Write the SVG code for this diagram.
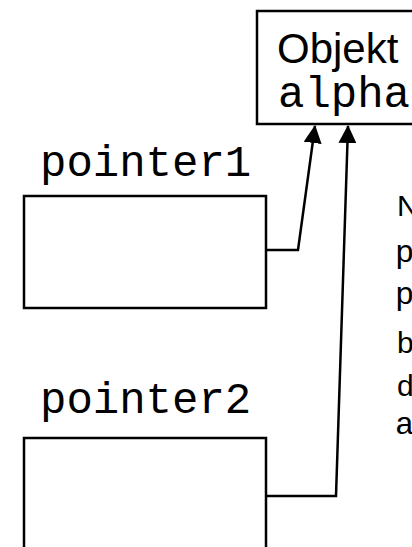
<svg xmlns="http://www.w3.org/2000/svg" width="412" height="547" viewBox="0 0 412 547">
  <style>
    .box { fill: #ffffff; stroke: #000000; stroke-width: 2.5; }
    .sans { font-family: "Liberation Sans", Arial, sans-serif; fill: #000000; }
    .mono { font-family: "Liberation Mono", "Courier New", monospace; fill: #000000; }
    .wire { fill: none; stroke: #000000; stroke-width: 2.5; }
  </style>
  <defs>
    <marker id="arrow" markerUnits="userSpaceOnUse" markerWidth="18" markerHeight="18" viewBox="0 0 18 18" refX="17" refY="9" orient="auto">
      <path d="M0,0 L18,9 L0,18 Z" fill="#000000"/>
    </marker>
  </defs>
  <rect width="412" height="547" fill="#ffffff"/>

  <!-- target object, its right side runs past the canvas edge -->
  <g id="objekt-alpha">
    <rect class="box" x="257" y="11" width="170" height="113"/>
    <text class="sans" x="277" y="63" font-size="42">Objekt</text>
    <text class="mono" x="278" y="107" font-size="44">alpha</text>
  </g>

  <g id="pointer1">
    <text class="mono" x="40" y="176" font-size="44">pointer1</text>
    <rect class="box" x="24" y="196" width="242" height="112"/>
  </g>

  <g id="pointer2">
    <text class="mono" x="40" y="413" font-size="44">pointer2</text>
    <rect class="box" x="24" y="438" width="242" height="130"/>
  </g>

  <!-- side note, clipped by the right edge -->
  <g id="note">
    <text class="sans" x="397" y="216" font-size="30">N</text>
    <text class="mono" x="395" y="262" font-size="32">p</text>
    <text class="mono" x="395" y="304" font-size="32">p</text>
    <text class="sans" x="397" y="353" font-size="30">b</text>
    <text class="sans" x="397" y="396" font-size="30">d</text>
    <text class="mono" x="395" y="434" font-size="32">a</text>
  </g>

  <g id="connectors">
    <polyline class="wire" points="266,250 298,250 315,126" marker-end="url(#arrow)"/>
    <polyline class="wire" points="266,496 336,496 348,126" marker-end="url(#arrow)"/>
  </g>
</svg>
